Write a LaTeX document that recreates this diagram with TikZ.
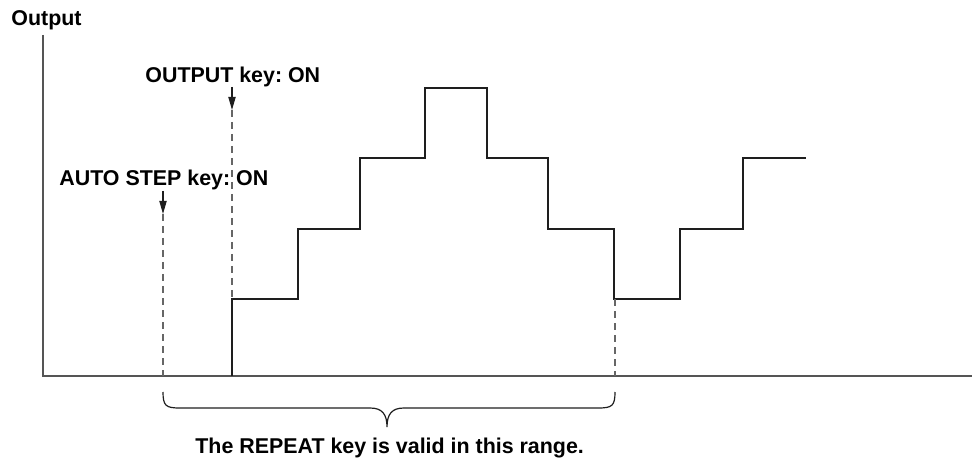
\documentclass[tikz,border=0pt]{standalone}
\usepackage{fontspec}
\setmainfont{Liberation Sans}
\usetikzlibrary{arrows.meta}
\definecolor{axisgray}{HTML}{555555}
\definecolor{dashgray}{HTML}{666666}
\definecolor{ink}{HTML}{1E1E1E}
\tikzset{
  every picture/.style={line join=miter, >={Triangle[length=6.5pt,width=3.6pt]}},
  axis/.style={axisgray, line width=1pt},
  wave/.style={ink, line width=0.75pt},
  guide/.style={dashgray, line width=0.75pt, dash pattern=on 3.3pt off 2.7pt},
  pointer/.style={->, ink, line width=0.6pt},
  lbl/.style={inner sep=0pt, anchor=base west, font=\fontsize{10.7}{12}\selectfont\bfseries\frenchspacing},
}

\begin{document}
\begin{tikzpicture}[x=0.5pt,y=-0.5pt]
\useasboundingbox (0,0) rectangle (972,459);
% axes
\coordinate (org) at (43,376);
\draw[axis] (43,35) -- (org) -- (972,376);
\node[lbl] (ylbl) at (11,26) {Output};
% step output
\draw[wave] (232,376) |- (298,299) |- (360,229) |- (425,158) |- (487,88)
  |- (548,158) |- (614,229) |- (680,299) |- (743,229) |- (806,158);
% key markers
\node[lbl] (okey) at (145,83) {OUTPUT key: ON};
\node[lbl] (akey) at (59,186) {AUTO STEP key: ON};
\coordinate (oon) at (232,299);
\coordinate (aon) at (163,376);
\coordinate (rend) at (615,376);
\draw[pointer] (oon |- 0,87) -- (oon |- 0,110);
\draw[guide] (oon |- 0,110) -- (oon);
\draw[pointer] (aon |- 0,191) -- (aon |- 0,214);
\draw[guide] (aon |- 0,214) -- (aon);
\draw[guide] (615,299) -- (rend);
% range brace
\draw[ink, line width=0.6pt] (163,392) .. controls (163,406) and (166,408) .. (180,408)
  -- (370,408) .. controls (382,408) and (387,414) .. (387,427)
  .. controls (387,414) and (392,408) .. (404,408) -- (598,408)
  .. controls (612,408) and (615,406) .. (615,392);
\node[lbl] (range) at (195,453) {The REPEAT key is valid in this range.};
\end{tikzpicture}
\end{document}
